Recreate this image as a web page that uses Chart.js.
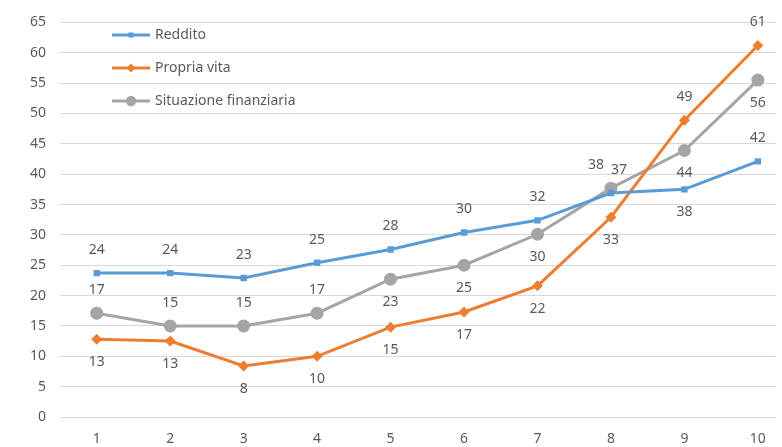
<!DOCTYPE html>
<html>
<head>
<meta charset="utf-8">
<script src="https://cdn.jsdelivr.net/npm/chart.js@4/dist/chart.umd.min.js"></script>
<style>
  html, body { margin: 0; padding: 0; background: #fff; }
  #wrap { width: 782px; height: 447px; }
</style>
</head>
<body>
<div id="wrap"><canvas id="chartContainer"></canvas></div>
<script>
// chart data
const categories = [1, 2, 3, 4, 5, 6, 7, 8, 9, 10];
const reddito = [23.7, 23.7, 22.9, 25.4, 27.6, 30.4, 32.4, 36.9, 37.5, 42.1];
const propriaVita = [12.8, 12.5, 8.4, 10.0, 14.8, 17.3, 21.6, 32.9, 48.9, 61.2];
const situazione = [17.1, 15.0, 15.0, 17.1, 22.7, 25.0, 30.1, 37.7, 43.9, 55.5];
const yTicks = [0, 5, 10, 15, 20, 25, 30, 35, 40, 45, 50, 55, 60, 65];

// where each value label goes: 1 = above, -1 = below
const redditoSide = [1, 1, 1, 1, 1, 1, 1, 1, -1, 1];
const propriaSide = [-1, -1, -1, -1, -1, -1, -1, -1, 1, 1];
const situazioneSide = [1, 1, 1, 1, -1, -1, -1, 1, -1, -1];

const textColor = '#595959';
const fontFamily = '"Noto Sans", "Open Sans", sans-serif';

function points(values) {
    return values.map((v, i) => ({ x: categories[i], y: v }));
}

// draws value labels next to each point
const valueLabels = {
    id: 'valueLabels',
    afterDatasetsDraw(chart) {
        const ctx = chart.ctx;
        ctx.save();
        ctx.font = '14px ' + fontFamily;
        ctx.fillStyle = textColor;
        ctx.textAlign = 'center';
        ctx.textBaseline = 'middle';
        chart.data.datasets.forEach((ds, di) => {
            const meta = chart.getDatasetMeta(di);
            meta.data.forEach((pt, i) => {
                const side = ds.labelSide[i];
                let dx = 0;
                if (ds.labelShift && ds.labelShift[i]) dx = ds.labelShift[i];
                const y = pt.y - side * 23;
                ctx.fillText(Math.round(ds.data[i].y), pt.x + dx, y);
            });
        });
        ctx.restore();
    }
};

// legend drawn inside the plot, top left
const innerLegend = {
    id: 'innerLegend',
    afterDraw(chart) {
        const ctx = chart.ctx;
        ctx.save();
        ctx.font = '14px ' + fontFamily;
        ctx.textBaseline = 'middle';
        chart.data.datasets.forEach((ds, i) => {
            const y = 35 + i * 33;
            ctx.strokeStyle = ds.borderColor;
            ctx.lineWidth = 3;
            ctx.beginPath();
            ctx.moveTo(112, y);
            ctx.lineTo(150, y);
            ctx.stroke();
            ctx.fillStyle = ds.borderColor;
            Chart.helpers.drawPoint(ctx, {
                pointStyle: ds.pointStyle,
                radius: ds.pointRadius * 0.8,
                borderWidth: 0
            }, 131, y);
            ctx.fillStyle = textColor;
            ctx.fillText(ds.label, 155, y);
        });
        ctx.restore();
    }
};

new Chart(document.getElementById('chartContainer').getContext('2d'), {
    type: 'line',
    data: {
        datasets: [{
            label: 'Reddito',
            data: points(reddito),
            borderColor: '#5B9BD5',
            backgroundColor: '#5B9BD5',
            borderWidth: 3,
            pointStyle: 'rect',
            pointRadius: 4.5,
            pointBorderWidth: 0,
            labelSide: redditoSide,
            labelShift: [0, 0, 0, 0, 0, 0, 0, 8, 0, 0]
        }, {
            label: 'Propria vita',
            data: points(propriaVita),
            borderColor: '#ED7D31',
            backgroundColor: '#ED7D31',
            borderWidth: 3,
            pointStyle: 'rectRot',
            pointRadius: 5.5,
            pointBorderWidth: 0,
            labelSide: propriaSide
        }, {
            label: 'Situazione finanziaria',
            data: points(situazione),
            borderColor: '#A5A5A5',
            backgroundColor: '#A5A5A5',
            borderWidth: 3,
            pointStyle: 'circle',
            pointRadius: 6.5,
            pointBorderWidth: 0,
            labelSide: situazioneSide,
            labelShift: [0, 0, 0, 0, 0, 0, 0, -15, 0, 0]
        }]
    },
    options: {
        responsive: true,
        maintainAspectRatio: false,
        animation: false,
        layout: { padding: { top: 22, right: 0, left: 0, bottom: 0 } },
        plugins: {
            legend: { display: false },
            tooltip: { enabled: false }
        },
        scales: {
            x: {
                type: 'linear',
                min: 0.5,
                max: 10.24,
                afterBuildTicks: axis => { axis.ticks = categories.map(v => ({ value: v })); },
                afterFit: axis => { axis.height = 30; },
                grid: { display: false },
                border: { display: false },
                ticks: { color: textColor, font: { family: fontFamily, size: 14 }, padding: 6 }
            },
            y: {
                min: 0,
                max: 65,
                afterBuildTicks: axis => { axis.ticks = yTicks.map(v => ({ value: v })); },
                afterFit: axis => { axis.width = 60; },
                grid: { color: '#D9D9D9', lineWidth: 1, drawTicks: false },
                border: { display: false },
                ticks: { color: textColor, font: { family: fontFamily, size: 14 }, padding: 14 }
            }
        }
    },
    plugins: [valueLabels, innerLegend]
});
</script>
</body>
</html>
